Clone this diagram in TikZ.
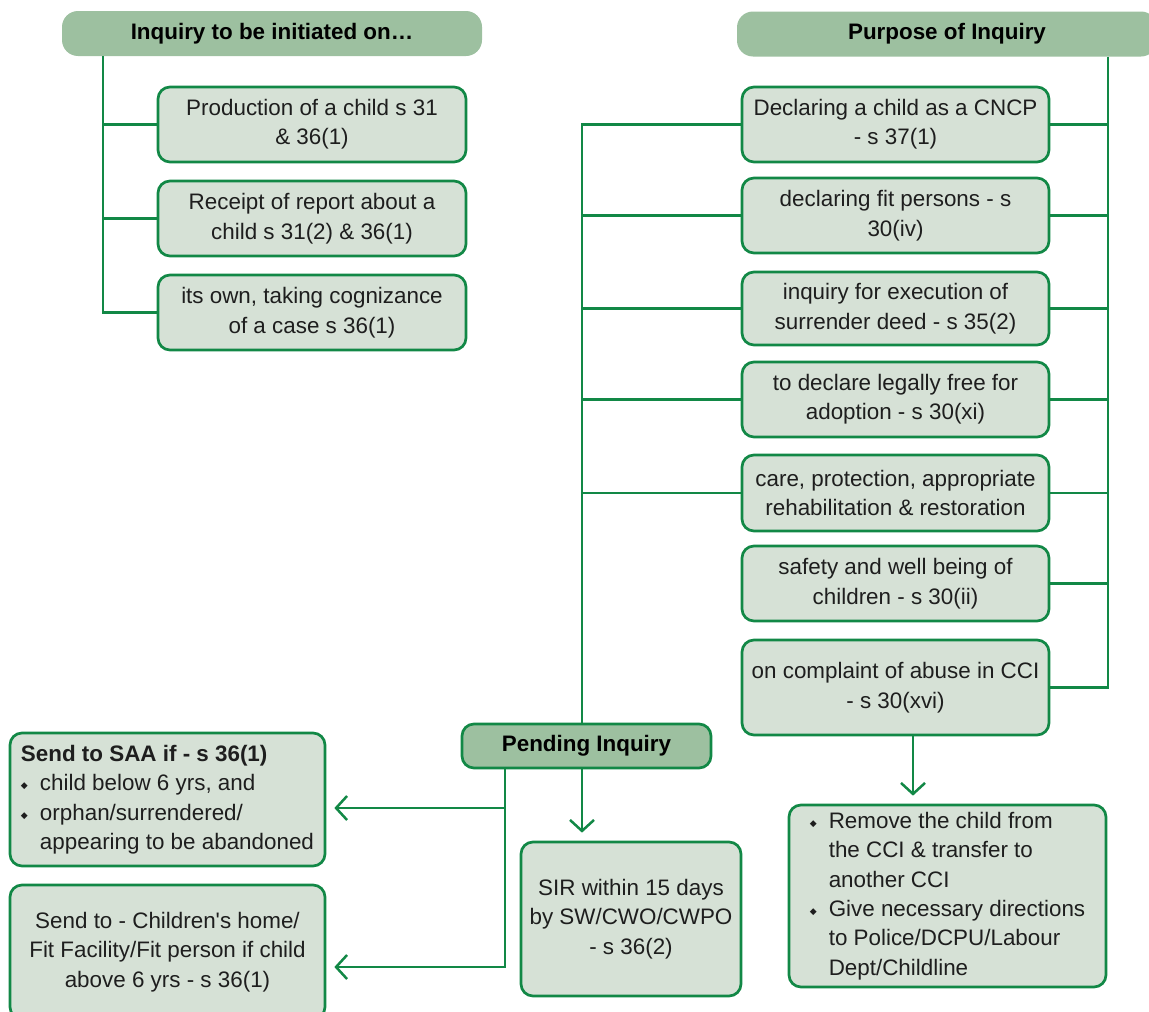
\documentclass[tikz,border=0pt]{standalone}
\usepackage{fontspec}
\setmainfont{Liberation Sans}
\newfontfamily\diafont{DejaVu Sans}
\usepackage{tikz}
\usetikzlibrary{arrows.meta}

\definecolor{hdrgreen}{RGB}{157,192,160}
\definecolor{boxgreen}{RGB}{214,225,214}
\definecolor{linegreen}{RGB}{18,136,70}
\definecolor{txtgray}{RGB}{30,30,30}

\newcommand{\dia}{\makebox[19pt][l]{\raisebox{2pt}{\diafont\fontsize{9}{9}\selectfont ◆}}}
\newcommand{\nodia}{\hspace*{19pt}}

\begin{document}
\begin{tikzpicture}[x=1pt, y=-1pt,
    font=\fontsize{22.4}{29.4}\selectfont,
    hdr/.style={fill=hdrgreen, rounded corners=16pt, minimum width=420pt, minimum height=45pt,
        font=\fontsize{22.4}{29.4}\selectfont\bfseries},
    box/.style={draw=linegreen, line width=2.7pt, fill=boxgreen, rounded corners=12pt,
        align=center, inner sep=3pt, text=txtgray},
    inbox/.style={box, minimum width=308pt, minimum height=75pt},
    pubox/.style={box, minimum width=307pt, minimum height=75pt},
    conn/.style={draw=linegreen, line width=2.5pt},
    arr/.style={conn, -{Straight Barb[length=11pt,width=24pt]}, shorten >=8pt}]
    \clip (0,0) rectangle (1149,1012);
    % headers
    \node[hdr](hdrA) at (272,33.5) {Inquiry to be initiated on…};
    \node[hdr](hdrB) at (947,34) {Purpose of Inquiry};
    % initiated on
    \node[inbox](in1) at (312,124.5) {Production of a child s 31\\ \& 36(1)};
    \node[inbox](in2) at (312,218.5) {Receipt of report about a\\ child s 31(2) \& 36(1)};
    \node[inbox](in3) at (312,312.5) {its own, taking cognizance\\ of a case s 36(1)};
    % purposes
    \node[pubox](pu1) at (895.5,124.5) {Declaring a child as a CNCP\\ - s 37(1)};
    \node[pubox](pu2) at (895.5,215.5) {declaring fit persons - s\\ 30(iv)};
    \node[pubox, minimum height=73pt](pu3) at (895.5,308.5) {inquiry for execution of\\ surrender deed - s 35(2)};
    \node[pubox](pu4) at (895.5,399.5) {to declare legally free for\\ adoption - s 30(xi)};
    \node[pubox, minimum height=76pt](pu5) at (895.5,493) {care, protection, appropriate\\ rehabilitation \& restoration};
    \node[pubox](pu6) at (895.5,583.5) {safety and well being of\\ children - s 30(ii)};
    \node[pubox, minimum height=95pt](pu7) at (895.5,687.5) {on complaint of abuse in CCI\\ - s 30(xvi)};
    % pending inquiry
    \node[box, fill=hdrgreen, text=black, minimum width=249pt, minimum height=44pt,
        font=\fontsize{22.4}{29.4}\selectfont\bfseries](pend) at (586.5,746) {Pending Inquiry};
    \node[box, align=left, inner xsep=8pt, minimum width=315pt, minimum height=133pt](saa) at (167.5,799.5)
        {\textbf{Send to SAA if - s 36(1)}\\ \dia child below 6 yrs, and\\ \dia orphan/surrendered/\\ \nodia appearing to be abandoned};
    \node[box, minimum width=315pt, minimum height=134pt](home) at (167.5,952)
        {Send to - Children\textquotesingle s home/\\ Fit Facility/Fit person if child\\ above 6 yrs - s 36(1)};
    \node[box, minimum width=220pt, minimum height=154pt](sir) at (631,919)
        {SIR within 15 days\\ by SW/CWO/CWPO\\ - s 36(2)};
    \node[box, align=left, minimum width=317pt, minimum height=182pt](rem) at (947.5,896)
        {\dia Remove the child from\\ \nodia the CCI \& transfer to\\ \nodia another CCI\\
         \dia Give necessary directions\\ \nodia to Police/DCPU/Labour\\ \nodia Dept/Childline};
    % trunk lines
    \coordinate (trunkA) at (103,0);
    \coordinate (trunkB) at (1108,0);
    \coordinate (trunkC) at (582,0);
    \coordinate (trunkD) at (505,0);
    \coordinate (trunkE) at (913,0);
    % connectors
    \draw[conn] (hdrA.south -| trunkA) |- (in3.west);
    \draw[conn] (hdrB.south -| trunkB) |- (pu7.east);
    \draw[conn] (pu1.west) -| (trunkC |- pend.north);
    \path
        (in1.west) edge[conn] (in1.west -| trunkA)
        (in2.west) edge[conn] (in2.west -| trunkA)
        (pu1.east) edge[conn] (pu1.east -| trunkB)
        (pu2.east) edge[conn] (pu2.east -| trunkB)
        (pu3.east) edge[conn] (pu3.east -| trunkB)
        (pu4.east) edge[conn] (pu4.east -| trunkB)
        (pu5.east) edge[conn] (pu5.east -| trunkB)
        (pu6.east) edge[conn] (pu6.east -| trunkB)
        (pu2.west) edge[conn] (pu2.west -| trunkC)
        (pu3.west) edge[conn] (pu3.west -| trunkC)
        (pu4.west) edge[conn] (pu4.west -| trunkC)
        (pu5.west) edge[conn] (pu5.west -| trunkC)
        ;
    % arrows
    \draw[arr] (trunkC |- pend.south) -- (trunkC |- sir.north);
    \draw[arr] (trunkE |- pu7.south) -- (trunkE |- rem.north);
    \draw[arr] (pend.south -| trunkD) |- ([yshift=-15pt]home.east);
    \draw[arr] ([yshift=-8.5pt]saa.east -| trunkD) -- ([yshift=-8.5pt]saa.east);
\end{tikzpicture}
\end{document}
